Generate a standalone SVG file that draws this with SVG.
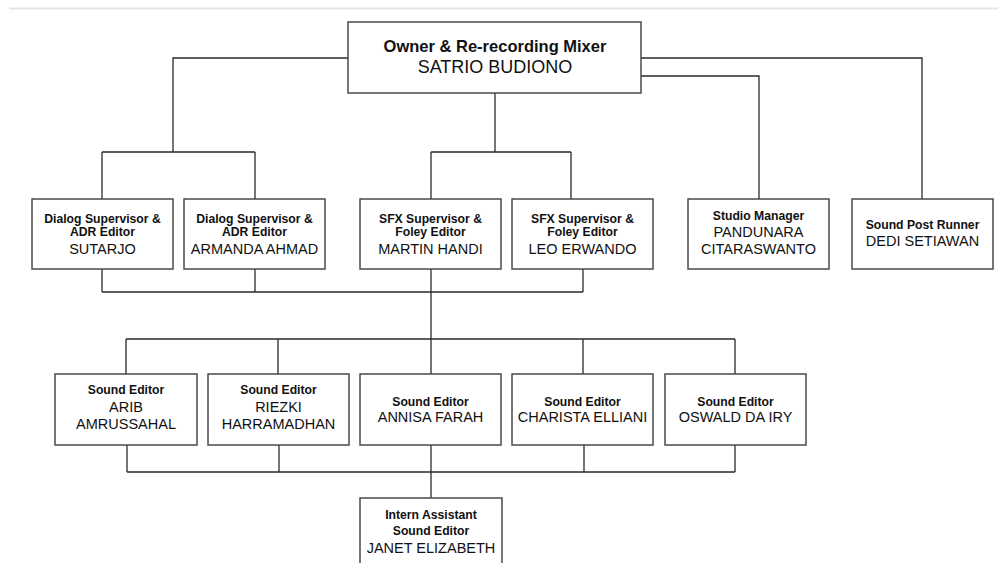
<svg xmlns="http://www.w3.org/2000/svg" width="998" height="565" viewBox="0 0 998 565">
<style>
.box{fill:#fff;stroke:#4a4a4a;stroke-width:1.5}
.ln{fill:none;stroke:#2a2a2a;stroke-width:1.3}
.t{font-family:"Liberation Sans",Arial,sans-serif;font-size:12.2px;font-weight:bold;fill:#111;text-anchor:middle}
.n{font-family:"Liberation Sans",Arial,sans-serif;font-size:14.5px;fill:#111;text-anchor:middle}
</style>
<rect width="998" height="565" fill="#fff"/>
<line x1="9" y1="8.5" x2="998" y2="8.5" stroke="#e6e6e6" stroke-width="2"/>
<g id="connectors" class="ln">
<path d="M495 93V152M431 152H571M431 152V199M571 152V199"/>
<path d="M348 58H173V152M102 152H255M102 152V199M255 152V199"/>
<path d="M641 58H922V199M641 76H759V199"/>
<path d="M102 269V292M255 269V292M431 269V292M583 269V292M102 292H583"/>
<path d="M431 292V339M126 339H735M126 339V374M278 339V374M431 339V374M583 339V374M735 339V374"/>
<path d="M127 445V472M279 445V472M431 445V472M584 445V472M735 445V472M127 472H735M431 472V498"/>
</g>
<g id="owner"><rect class="box" x="348" y="22" width="293" height="71"/><text class="t" style="font-size:16.5px" x="495" y="52">Owner &amp; Re-recording Mixer</text><text class="n" style="font-size:18px" x="495" y="73">SATRIO BUDIONO</text></g>
<g id="sutarjo"><rect class="box" x="32" y="199" width="141" height="70"/><text class="t" x="102.5" y="223">Dialog Supervisor &amp;</text><text class="t" x="102.5" y="236">ADR Editor</text><text class="n" x="102.5" y="254">SUTARJO</text></g>
<g id="armanda"><rect class="box" x="184" y="199" width="141" height="70"/><text class="t" x="254.5" y="223">Dialog Supervisor &amp;</text><text class="t" x="254.5" y="236">ADR Editor</text><text class="n" x="254.5" y="254">ARMANDA AHMAD</text></g>
<g id="martin"><rect class="box" x="360" y="199" width="141" height="70"/><text class="t" x="430.5" y="223">SFX Supervisor &amp;</text><text class="t" x="430.5" y="236">Foley Editor</text><text class="n" x="430.5" y="254">MARTIN HANDI</text></g>
<g id="leo"><rect class="box" x="512" y="199" width="141" height="70"/><text class="t" x="582.5" y="223">SFX Supervisor &amp;</text><text class="t" x="582.5" y="236">Foley Editor</text><text class="n" x="582.5" y="254">LEO ERWANDO</text></g>
<g id="pandunara"><rect class="box" x="688" y="199" width="141" height="70"/><text class="t" x="758.5" y="220">Studio Manager</text><text class="n" x="758.5" y="237">PANDUNARA</text><text class="n" x="758.5" y="254">CITARASWANTO</text></g>
<g id="dedi"><rect class="box" x="852" y="199" width="141" height="70"/><text class="t" x="922.5" y="229">Sound Post Runner</text><text class="n" x="922.5" y="246">DEDI SETIAWAN</text></g>
<g id="arib"><rect class="box" x="55" y="374" width="142" height="71"/><text class="t" x="126" y="394">Sound Editor</text><text class="n" x="126" y="412">ARIB</text><text class="n" x="126" y="429">AMRUSSAHAL</text></g>
<g id="riezki"><rect class="box" x="208" y="374" width="141" height="71"/><text class="t" x="278.5" y="394">Sound Editor</text><text class="n" x="278.5" y="412">RIEZKI</text><text class="n" x="278.5" y="429">HARRAMADHAN</text></g>
<g id="annisa"><rect class="box" x="360" y="374" width="141" height="71"/><text class="t" x="430.5" y="406">Sound Editor</text><text class="n" x="430.5" y="422">ANNISA FARAH</text></g>
<g id="charista"><rect class="box" x="512" y="374" width="141" height="71"/><text class="t" x="582.5" y="406">Sound Editor</text><text class="n" x="582.5" y="422">CHARISTA ELLIANI</text></g>
<g id="oswald"><rect class="box" x="665" y="374" width="141" height="71"/><text class="t" x="735.5" y="406">Sound Editor</text><text class="n" x="735.5" y="422">OSWALD DA IRY</text></g>
<g id="janet"><path class="box" d="M360 563V498H502V563"/><text class="t" x="431" y="519">Intern Assistant</text><text class="t" x="431" y="535">Sound Editor</text><text class="n" x="431" y="553">JANET ELIZABETH</text></g>
</svg>
